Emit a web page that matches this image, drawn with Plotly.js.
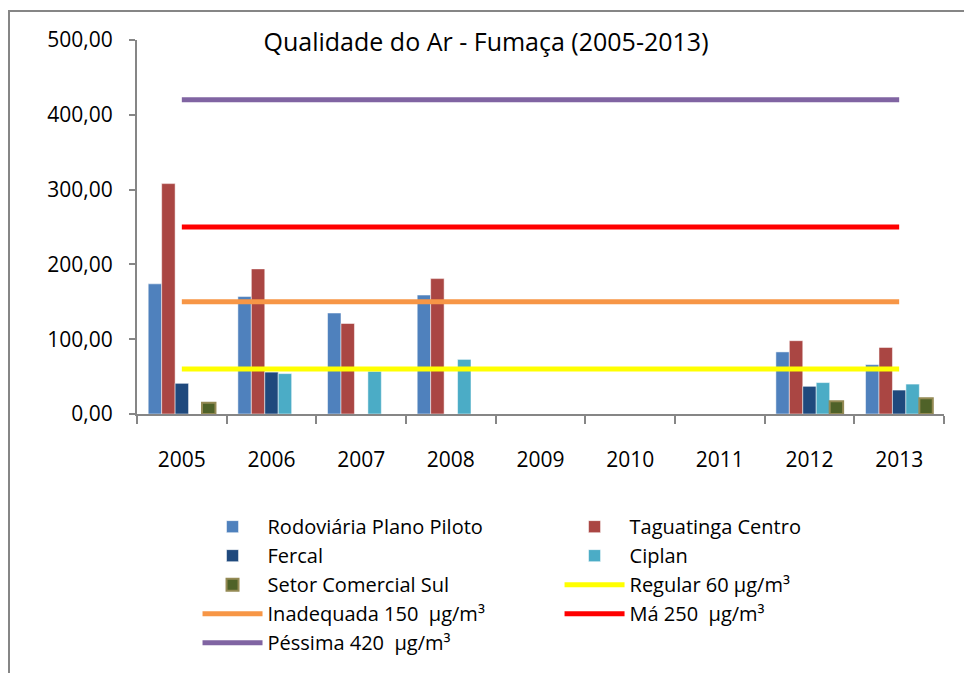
<!DOCTYPE html>
<html>
<head>
<meta charset="utf-8">
<script src="https://cdn.plot.ly/plotly-3.0.1.min.js"></script>
<style>
  html, body { margin: 0; padding: 0; background: #fff; }
  #wrap { position: relative; width: 964px; height: 673px; overflow: hidden; }
  #chart { width: 964px; height: 673px; }
  #frame { position: absolute; left: 8px; top: 10px; width: 1000px; height: 800px;
           border-left: 2.5px solid #868686; border-top: 2.5px solid #868686; pointer-events: none; }
</style>
</head>
<body>
<div id="wrap"><div id="chart"></div><div id="frame"></div></div>
<script>
const years = ['2005','2006','2007','2008','2009','2010','2011','2012','2013'];
const rodoviaria = [174, 157, 135, 159, null, null, null, 83, 66];
const taguatinga = [308, 194, 121, 181, null, null, null, 98, 89];
const fercal     = [41, 56, null, null, null, null, null, 37, 32];
const ciplan     = [null, 54, 57, 73, null, null, null, 42, 40];
const setorSul   = [15, null, null, null, null, null, null, 17, 21];
const regular    = [60, 60, 60, 60, 60, 60, 60, 60, 60];
const inadequada = [150, 150, 150, 150, 150, 150, 150, 150, 150];
const ma         = [250, 250, 250, 250, 250, 250, 250, 250, 250];
const pessima    = [420, 420, 420, 420, 420, 420, 420, 420, 420];
const yTicks = [0, 100, 200, 300, 400, 500];

const font = 'Open Sans, Noto Sans, sans-serif';

function bar(name, y, color, legend, lineColor, lineWidth) {
  return { type: 'bar', name: name, x: years, y: y, legend: legend,
    marker: { color: color, line: { color: lineColor || 'rgba(255,255,255,0.5)', width: lineWidth || 1 } } };
}
function hline(name, y, color, legend) {
  return { type: 'scatter', mode: 'lines', name: name, x: years, y: y, legend: legend,
    line: { color: color, width: 5 } };
}

const data = [
  bar('Rodoviária Plano Piloto', rodoviaria, '#4F81BD', 'legend'),
  bar('Taguatinga Centro', taguatinga, '#AA4643', 'legend2'),
  bar('Fercal', fercal, '#1F497D', 'legend'),
  bar('Ciplan', ciplan, '#4BACC6', 'legend2'),
  bar('Setor Comercial Sul', setorSul, '#4F6228', 'legend', '#948A54', 2),
  hline('Regular 60 µg/m³', regular, '#FFFF00', 'legend2'),
  hline('Inadequada 150  µg/m³', inadequada, '#F79646', 'legend'),
  hline('Má 250  µg/m³', ma, '#FF0000', 'legend2'),
  hline('Péssima 420  µg/m³', pessima, '#8064A2', 'legend')
];

const legendFont = { family: font, size: 20, color: '#000' };
const layout = {
  width: 964, height: 673,
  margin: { l: 137, r: 20, t: 40, b: 259, autoexpand: false },
  paper_bgcolor: '#fff', plot_bgcolor: '#fff',
  font: { family: font, size: 21, color: '#000' },
  separators: ',.',
  title: { text: 'Qualidade do Ar - Fumaça (2005-2013)', font: { family: font, size: 25, color: '#000' },
           x: 0.4325, xref: 'paper', xanchor: 'center', y: 0.937, yref: 'container', yanchor: 'middle' },
  barmode: 'group', bargap: 0.25, bargroupgap: 0,
  showlegend: true,
  legend: { orientation: 'v', x: 0.075, xanchor: 'left', y: -0.249, yanchor: 'top',
            traceorder: 'normal', font: legendFont, itemwidth: 60, bgcolor: 'rgba(0,0,0,0)' },
  legend2: { orientation: 'v', x: 0.5236, xanchor: 'left', y: -0.249, yanchor: 'top',
            traceorder: 'normal', font: legendFont, itemwidth: 60, bgcolor: 'rgba(0,0,0,0)' },
  xaxis: { type: 'category', showgrid: false, zeroline: false, showline: true, linecolor: '#868686', linewidth: 2,
           ticks: 'outside', tickson: 'boundaries', ticklen: 8, tickcolor: '#868686', tickwidth: 2,
           ticklabelstandoff: 26, tickfont: { family: font, size: 21, color: '#000' } },
  yaxis: { range: [0, 500], showgrid: false, zeroline: false, showline: true, linecolor: '#868686', linewidth: 2,
           tickvals: yTicks, tickformat: '.2f', ticks: 'outside', ticklen: 6, tickcolor: '#868686', tickwidth: 2,
           ticklabelstandoff: 12, tickfont: { family: font, size: 21, color: '#000' } }
};

Plotly.newPlot('chart', data, layout, { displayModeBar: false, staticPlot: true });
</script>
</body>
</html>
